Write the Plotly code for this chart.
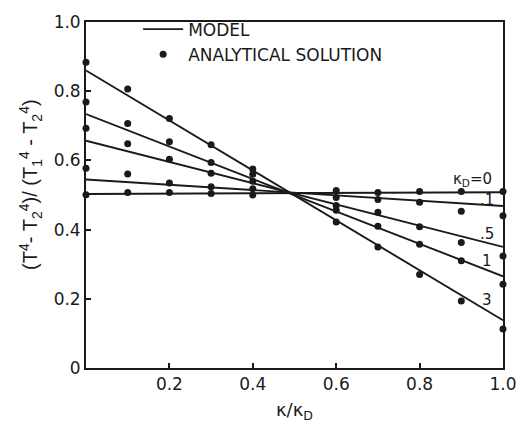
import plotly.graph_objects as go

# ---- data ----
kd_labels = ["3", "1", ".5", ".1", "0"]

x_model = [0.0, 1.0]
model_kd3 = [0.860, 0.138]
model_kd1 = [0.734, 0.265]
model_kd05 = [0.657, 0.350]
model_kd01 = [0.545, 0.468]
model_kd0 = [0.503, 0.508]

x_pts = [0.0, 0.1, 0.2, 0.3, 0.4, 0.6, 0.7, 0.8, 0.9, 1.0]
anal_kd3 = [0.884, 0.806, 0.721, 0.645, 0.575, 0.422, 0.350, 0.270, 0.194, 0.113]
anal_kd1 = [0.769, 0.707, 0.654, 0.594, 0.560, 0.456, 0.410, 0.358, 0.310, 0.242]
anal_kd05 = [0.693, 0.648, 0.603, 0.563, 0.540, 0.470, 0.450, 0.408, 0.363, 0.324]
anal_kd01 = [0.577, 0.561, 0.535, 0.524, 0.518, 0.493, 0.487, 0.479, 0.453, 0.440]
anal_kd0 = [0.501, 0.507, 0.507, 0.504, 0.500, 0.513, 0.507, 0.510, 0.510, 0.510]

x_ticks = [0.2, 0.4, 0.6, 0.8, 1.0]
x_ticktext = ["0.2", "0.4", "0.6", "0.8", "1.0"]
y_ticks = [0, 0.2, 0.4, 0.6, 0.8, 1.0]
y_ticktext = ["0", "0.2", "0.4", "0.6", "0.8", "1.0"]

# curve labels (data coords)
label_text = ["κ<sub>D</sub>=0", ".1", ".5", "1", "3"]
label_x = [0.928, 0.962, 0.962, 0.962, 0.962]
label_y = [0.545, 0.485, 0.386, 0.310, 0.197]

INK = "#1a1a1a"
FONT = "DejaVu Sans"

models = [model_kd3, model_kd1, model_kd05, model_kd01, model_kd0]
anals = [anal_kd3, anal_kd1, anal_kd05, anal_kd01, anal_kd0]

fig = go.Figure()
for i, m in enumerate(models):
    fig.add_trace(go.Scatter(
        x=x_model, y=m, mode="lines",
        line=dict(color=INK, width=1.9),
        name="MODEL", showlegend=(i == 0), legendrank=1,
    ))
for i, a in enumerate(anals):
    fig.add_trace(go.Scatter(
        x=x_pts, y=a, mode="markers",
        marker=dict(color=INK, size=7),
        name="ANALYTICAL SOLUTION", showlegend=(i == 0), legendrank=2,
        cliponaxis=False,
    ))

for t, lx, ly in zip(label_text, label_x, label_y):
    fig.add_annotation(x=lx, y=ly, text=t, showarrow=False,
                       font=dict(family=FONT, size=15, color=INK))

fig.add_annotation(
    xref="paper", yref="paper", x=-0.132, y=0.532, xanchor="center", yanchor="middle",
    textangle=-90,
    text="(T<sup>4</sup>- T<sub>2</sub><sup>4</sup>)/ (T<sub>1</sub><sup>4</sup> - T<sub>2</sub><sup>4</sup>)",
    showarrow=False,
    font=dict(family="Liberation Sans Narrow, Liberation Sans, Arial", size=20, color=INK),
)

axis_common = dict(
    showline=True, linecolor=INK, linewidth=1.8, mirror=True,
    ticks="inside", ticklen=5, tickwidth=1.5, tickcolor=INK,
    showgrid=False, zeroline=False,
    tickfont=dict(family=FONT, size=17, color=INK),
)

fig.update_layout(
    width=526, height=423,
    margin=dict(l=86, r=23, t=12, b=55),
    paper_bgcolor="white", plot_bgcolor="white",
    showlegend=True,
    legend=dict(x=0.125, y=1.03, xanchor="left", yanchor="top",
                bgcolor="rgba(0,0,0,0)", font=dict(family=FONT, size=17, color=INK),
                tracegroupgap=0, itemwidth=40),
    xaxis=dict(range=[0, 1], tickvals=x_ticks, ticktext=x_ticktext,
               title=dict(text="κ/κ<sub>D</sub>", font=dict(family=FONT, size=18, color=INK), standoff=10),
               automargin=False, **axis_common),
    yaxis=dict(range=[0, 1], tickvals=y_ticks, ticktext=y_ticktext, automargin=False, **axis_common),
)

fig.write_html("out.html", config={"displayModeBar": False},
               post_script="document.body.style.margin='0';document.body.style.padding='0';")
